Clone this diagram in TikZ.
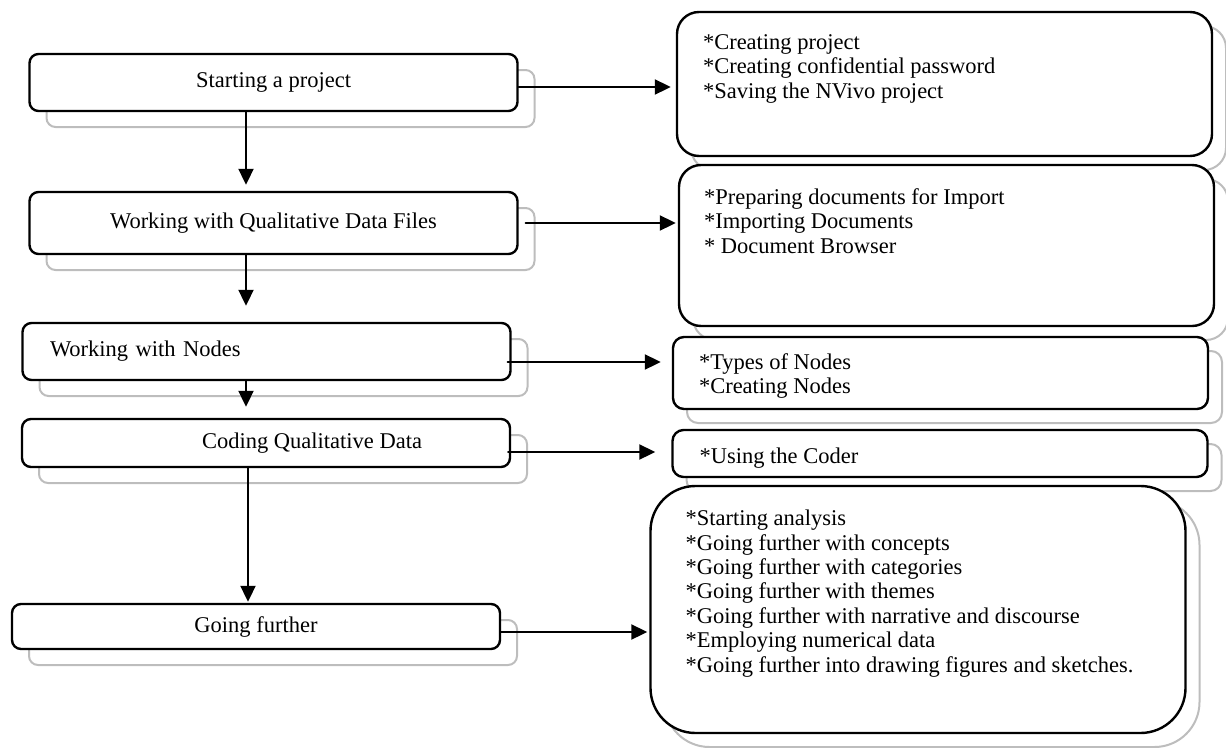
\documentclass[tikz,border=0pt]{standalone}
\usepackage{fontspec}
\setmainfont{Liberation Serif}
\usetikzlibrary{arrows.meta,positioning,shadows}
\definecolor{shadowgray}{HTML}{BDBDBD}
\tikzset{
  lbox/.style={draw, line width=2.4pt, fill=white, rounded corners=9pt,
    minimum width=488pt, inner sep=0pt, font=\fontsize{22.5pt}{24.4pt}\selectfont,
    copy shadow={shadow xshift=17pt, shadow yshift=-16pt, draw=shadowgray, fill=white, line width=2pt}},
  rbox/.style={draw, line width=2.4pt, fill=white, minimum width=535pt, inner sep=0pt,
    copy shadow={shadow xshift=14pt, shadow yshift=-14pt, draw=shadowgray, fill=white, line width=2pt}},
  items/.style={inner sep=0pt, align=left, font=\fontsize{22.5pt}{24.4pt}\selectfont},
  arr/.style={line width=2pt, -{Triangle[length=16pt,width=15pt]}},
  every picture/.style={line cap=round, line join=round}
}

\begin{document}
\begin{tikzpicture}[x=1pt,y=-1pt]
  \useasboundingbox (0,0) rectangle (1226,747);

  % steps
  \node[lbox, minimum height=57pt] (start) at (273.5,82.5) {Starting a project};
  \node[lbox, minimum height=62pt] (files) at (273.5,223) {Working with Qualitative Data Files};
  \node[lbox, minimum height=57pt, text width=433pt, align=left] (nodes) at (266.5,351.5) {Working with Nodes};
  \node[lbox, minimum height=48pt] (coding) at (266,443) {\hspace{92pt}Coding Qualitative Data};
  \node[lbox, minimum height=45pt] (further) at (256,626.5) {Going further};

  % what each step covers
  \node[rbox, minimum height=144pt, rounded corners=22pt] (startlist) at (944.5,84) {};
  \node[rbox, minimum height=161pt, rounded corners=22pt] (fileslist) at (946.5,245.5) {};
  \node[rbox, minimum height=72pt, rounded corners=11pt] (nodeslist) at (940.5,373) {};
  \node[rbox, minimum height=47pt, rounded corners=11pt] (codinglist) at (940,453.5) {};
  \node[rbox, minimum height=247pt, rounded corners=45pt] (furtherlist) at (918,609.5) {};

  \node[items, below right=23.5pt and 27pt of startlist.north west] (startitems)
    {*Creating project\\*Creating confidential password\\*Saving the NVivo project};
  \node[items, below right=24.5pt and 26pt of fileslist.north west] (filesitems)
    {*Preparing documents for Import\\*Importing Documents\\* Document Browser};
  \node[items, below right=17.5pt and 27pt of nodeslist.north west] (nodesitems)
    {*Types of Nodes\\*Creating Nodes};
  \node[items, below right=18.5pt and 28pt of codinglist.north west] (codingitems)
    {*Using the Coder};
  \node[items, below right=25pt and 36pt of furtherlist.north west] (furtheritems)
    {*Starting analysis\\*Going further with concepts\\*Going further with categories\\
     *Going further with themes\\*Going further with narrative and discourse\\
     *Employing numerical data\\*Going further into drawing figures and sketches.};

  % down the steps
  \draw[arr, shorten >=6pt] ([xshift=-27.5pt]start.south) -- ([xshift=-27.5pt]start.south |- files.north);
  \draw[arr, shorten >=16pt] ([xshift=-27.5pt]files.south) -- ([xshift=-27.5pt]files.south |- nodes.north);
  \draw[arr, shorten >=11pt] ([xshift=-20.5pt]nodes.south) -- ([xshift=-20.5pt]nodes.south |- coding.north);
  \draw[arr, shorten >=1pt] ([xshift=-18pt]coding.south) -- ([xshift=-18pt]coding.south |- further.north);

  % across to the lists
  \draw[arr, shorten >=5pt] ([yshift=-4.5pt]start.east) -- ([yshift=-4.5pt]start.east -| startlist.west);
  \draw[arr, shorten <=7pt, shorten >=2pt] (files.east) -- (files.east -| fileslist.west);
  \draw[arr, shorten <=-4pt, shorten >=11pt] ([yshift=-10.5pt]nodes.east) -- ([yshift=-10.5pt]nodes.east -| nodeslist.west);
  \draw[arr, shorten <=-3pt, shorten >=16pt] ([yshift=-9pt]coding.east) -- ([yshift=-9pt]coding.east -| codinglist.west);
  \draw[arr, shorten >=2pt] ([yshift=-5.5pt]further.east) -- ([yshift=-5.5pt]further.east -| furtherlist.west);
\end{tikzpicture}
\end{document}
